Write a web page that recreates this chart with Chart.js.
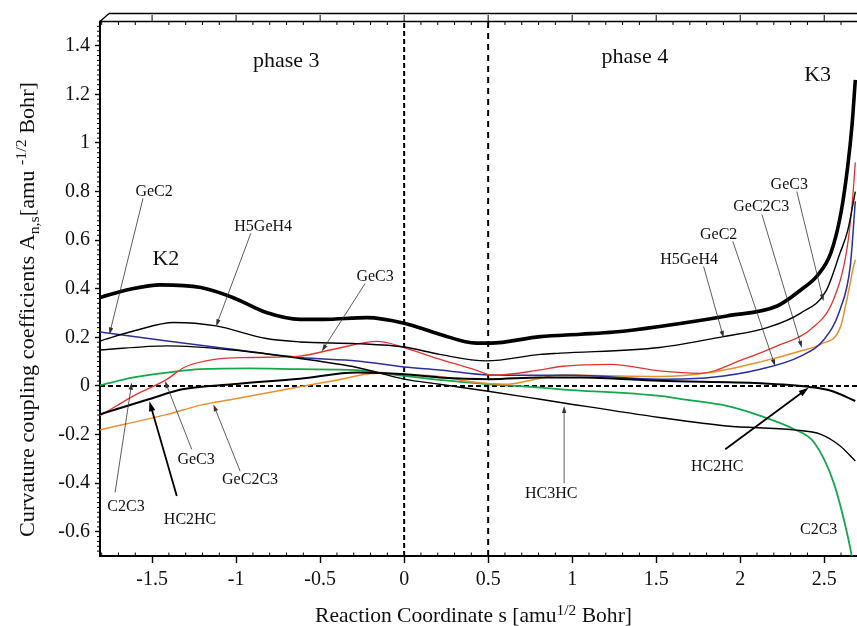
<!DOCTYPE html>
<html>
<head>
<meta charset="utf-8">
<script src="https://cdn.jsdelivr.net/npm/chart.js@4.4.1/dist/chart.umd.min.js"></script>
<style>
  html, body { margin: 0; padding: 0; background: #fff; }
  canvas { display: block; }
</style>
</head>
<body>
<canvas id="chart" width="857" height="626"></canvas>
<script>
const SERIF = "'Liberation Serif', 'Times New Roman', serif";

// Reaction coordinate s [amu^1/2 Bohr] and curvature coupling values per mode
const kS = [-1.81, -1.63, -1.45, -1.21, -1.02, -0.82, -0.62, -0.48, -0.22, 0.0, 0.21, 0.43, 0.51, 0.81, 1.05, 1.25, 1.52, 1.92, 2.22, 2.36, 2.46, 2.54, 2.60, 2.64, 2.665, 2.685];
const kV = [0.364, 0.398, 0.416, 0.405, 0.364, 0.302, 0.274, 0.274, 0.281, 0.258, 0.213, 0.176, 0.176, 0.203, 0.213, 0.222, 0.245, 0.288, 0.329, 0.395, 0.455, 0.549, 0.714, 0.905, 1.07, 1.26];

const h5gS = [-1.81, -1.6, -1.37, -1.12, -0.82, -0.62, -0.28, 0.0, 0.21, 0.49, 0.81, 0.93, 1.52, 1.90, 2.16, 2.36, 2.51, 2.595, 2.64, 2.685];
const h5gV = [0.185, 0.228, 0.261, 0.247, 0.195, 0.181, 0.174, 0.160, 0.130, 0.103, 0.130, 0.135, 0.158, 0.203, 0.240, 0.300, 0.390, 0.549, 0.640, 0.800];

const gec2S = [-1.81, -1.41, -1.02, -0.62, -0.28, 0.0, 0.21, 0.51, 0.81, 1.0, 1.52, 1.82, 2.12, 2.36, 2.50, 2.595, 2.655, 2.685];
const gec2V = [0.222, 0.185, 0.151, 0.117, 0.103, 0.078, 0.066, 0.045, 0.044, 0.044, 0.028, 0.035, 0.069, 0.123, 0.192, 0.316, 0.494, 0.760];

const gec3S = [-1.81, -1.61, -1.41, -1.31, -1.12, -0.92, -0.62, -0.42, -0.16, 0.0, 0.21, 0.41, 0.53, 0.81, 0.93, 1.23, 1.52, 1.76, 2.02, 2.22, 2.42, 2.556, 2.635, 2.665, 2.685];
const gec3V = [-0.123, -0.041, 0.028, 0.076, 0.110, 0.117, 0.123, 0.151, 0.183, 0.158, 0.110, 0.069, 0.044, 0.066, 0.080, 0.089, 0.062, 0.052, 0.110, 0.165, 0.233, 0.357, 0.563, 0.741, 0.920];

const gec2c3S = [-1.81, -1.41, -1.21, -1.02, -0.62, -0.42, -0.16, 0.0, 0.21, 0.41, 0.61, 0.81, 0.93, 1.52, 1.82, 2.12, 2.36, 2.48, 2.595, 2.635, 2.675, 2.685];
const gec2c3V = [-0.181, -0.117, -0.079, -0.055, -0.003, 0.021, 0.052, 0.048, 0.039, 0.016, 0.007, 0.032, 0.045, 0.039, 0.055, 0.099, 0.144, 0.172, 0.240, 0.357, 0.494, 0.520];

const c2c3S = [-1.81, -1.61, -1.41, -1.21, -0.92, -0.62, -0.28, 0.0, 0.21, 0.51, 0.81, 0.93, 1.52, 1.66, 1.92, 2.12, 2.32, 2.44, 2.556, 2.635, 2.67];
const c2c3V = [0.003, 0.035, 0.055, 0.069, 0.072, 0.069, 0.065, 0.041, 0.025, 0.007, -0.007, -0.014, -0.041, -0.055, -0.082, -0.123, -0.178, -0.233, -0.398, -0.603, -0.720];

const hc2hcS = [-1.81, -1.52, -1.32, -1.02, -0.62, -0.28, 0.0, 0.21, 0.51, 0.81, 1.05, 1.52, 2.12, 2.42, 2.54, 2.685];
const hc2hcV = [-0.117, -0.055, -0.014, 0.007, 0.030, 0.055, 0.048, 0.035, 0.028, 0.035, 0.035, 0.021, 0.011, -0.005, -0.020, -0.062];

const hc3hcS = [-1.81, -1.41, -1.02, -0.62, -0.28, 0.0, 0.21, 0.49, 0.81, 0.93, 1.52, 1.92, 2.32, 2.48, 2.595, 2.685];
const hc3hcV = [0.148, 0.165, 0.148, 0.113, 0.076, 0.028, 0.007, -0.021, -0.055, -0.068, -0.130, -0.165, -0.181, -0.199, -0.247, -0.309];

// Phase boundaries and the zero reference
const phaseBounds = [0, 0.5];
const xRange = [-1.81, 2.695];
const yRange = [-0.70, 1.50];

// Axis ticks
const xTickValues = [-1.5, -1, -0.5, 0, 0.5, 1, 1.5, 2, 2.5];
const xTickLabels = ['-1.5', '-1', '-0.5', '0', '0.5', '1', '1.5', '2', '2.5'];
const yTickValues = [-0.6, -0.4, -0.2, 0, 0.2, 0.4, 0.6, 0.8, 1, 1.2, 1.4];
const yTickLabels = ['-0.6', '-0.4', '-0.2', '0', '0.2', '0.4', '0.6', '0.8', '1', '1.2', '1.4'];

// Text placed in data coordinates (s, value)
const bigLabels = [
  { text: 'phase 3', s: -0.702, v: 1.311 },
  { text: 'phase 4', s: 1.373, v: 1.330 },
  { text: 'K3', s: 2.461, v: 1.255 },
  { text: 'K2', s: -1.418, v: 0.497 }
];
const modeLabels = [
  { text: 'GeC2', s: -1.488, v: 0.780, from: [-1.554, 0.772], to: [-1.754, 0.212] },
  { text: 'H5GeH4', s: -0.839, v: 0.637, from: [-0.9125, 0.628], to: [-1.119, 0.246] },
  { text: 'GeC3', s: -0.173, v: 0.432, from: [-0.232, 0.422], to: [-0.49, 0.143] },
  { text: 'C2C3', s: -1.655, v: -0.514, from: [-1.720, -0.438], to: [-1.621, 0.013] },
  { text: 'HC2HC', s: -1.274, v: -0.569, from: [-1.353, -0.453], to: [-1.516, -0.063], bold: true },
  { text: 'GeC3', s: -1.238, v: -0.322, from: [-1.264, -0.261], to: [-1.423, 0.020] },
  { text: 'GeC2C3', s: -0.917, v: -0.405, from: [-0.976, -0.351], to: [-1.135, -0.076] },
  { text: 'HC3HC', s: 0.875, v: -0.463, from: [0.952, -0.401], to: [0.952, -0.083] },
  { text: 'HC2HC', s: 1.863, v: -0.350, from: [1.911, -0.261], to: [2.407, -0.007], bold: true },
  { text: 'C2C3', s: 2.467, v: -0.610 },
  { text: 'H5GeH4', s: 1.696, v: 0.501, from: [1.782, 0.492], to: [1.901, 0.198] },
  { text: 'GeC2', s: 1.872, v: 0.604, from: [1.956, 0.595], to: [2.208, 0.081] },
  { text: 'GeC2C3', s: 2.125, v: 0.720, from: [2.129, 0.706], to: [2.367, 0.157] },
  { text: 'GeC3', s: 2.292, v: 0.809, from: [2.337, 0.800], to: [2.496, 0.349] }
];

const pts = (xs, ys) => xs.map((x, i) => ({ x, y: ys[i] }));

function curve(xs, ys, color, width, order) {
  return {
    data: pts(xs, ys), borderColor: color, borderWidth: width, showLine: true,
    pointRadius: 0, fill: false, cubicInterpolationMode: 'monotone', order
  };
}
function dashed(data, dash) {
  return {
    data, borderColor: '#000', borderWidth: 2, borderDash: dash, showLine: true,
    pointRadius: 0, fill: false, tension: 0, order: 20
  };
}

const datasets = [
  curve(kS, kV, '#000000', 3.6, 1),
  curve(h5gS, h5gV, '#000000', 1.4, 2),
  curve(hc2hcS, hc2hcV, '#000000', 2.0, 3),
  curve(hc3hcS, hc3hcV, '#000000', 1.4, 4),
  curve(gec3S, gec3V, '#e0352f', 1.3, 5),
  curve(gec2S, gec2V, '#2a2f9c', 1.5, 6),
  curve(gec2c3S, gec2c3V, '#e8902e', 1.5, 7),
  curve(c2c3S, c2c3V, '#14a64a', 1.8, 8),
  dashed([{ x: phaseBounds[0], y: yRange[0] }, { x: phaseBounds[0], y: yRange[1] }], [5, 3]),
  dashed([{ x: phaseBounds[1], y: yRange[0] }, { x: phaseBounds[1], y: yRange[1] }], [6, 5]),
  dashed([{ x: xRange[0], y: 0 }, { x: xRange[1], y: 0 }], [5, 3])
];

function line(ctx, x1, y1, x2, y2) {
  ctx.beginPath(); ctx.moveTo(x1, y1); ctx.lineTo(x2, y2); ctx.stroke();
}

function arrow(ctx, x1, y1, x2, y2, bold) {
  const ang = Math.atan2(y2 - y1, x2 - x1);
  const len = bold ? 10 : 7;
  const half = bold ? 3.2 : 2.2;
  ctx.save();
  ctx.strokeStyle = bold ? '#000' : '#333';
  ctx.fillStyle = ctx.strokeStyle;
  ctx.lineWidth = bold ? 1.8 : 0.8;
  line(ctx, x1, y1, x2 - Math.cos(ang) * len * 0.6, y2 - Math.sin(ang) * len * 0.6);
  ctx.beginPath();
  ctx.moveTo(x2, y2);
  ctx.lineTo(x2 - Math.cos(ang) * len - Math.sin(ang) * half, y2 - Math.sin(ang) * len + Math.cos(ang) * half);
  ctx.lineTo(x2 - Math.cos(ang) * len + Math.sin(ang) * half, y2 - Math.sin(ang) * len - Math.cos(ang) * half);
  ctx.closePath();
  ctx.fill();
  ctx.restore();
}

// Draws a run of text pieces (with sub/superscripts) along a baseline,
// optionally stretched to a given length.
function drawRuns(ctx, runs, length) {
  let total = 0;
  runs.forEach(r => { ctx.font = r.size + 'px ' + SERIF; r.w = ctx.measureText(r.text).width; total += r.w; });
  const k = length ? length / total : 1;
  ctx.save();
  ctx.scale(k, 1);
  let cx = 0;
  runs.forEach(r => { ctx.font = r.size + 'px ' + SERIF; ctx.fillText(r.text, cx, r.dy || 0); cx += r.w; });
  ctx.restore();
}

const decor = {
  id: 'decor',
  afterDraw(chart) {
    const { ctx, chartArea: a, scales: { x, y } } = chart;
    ctx.save();
    ctx.strokeStyle = '#000';
    ctx.lineWidth = 1;

    // minor ticks: bottom/top every 0.1, left every 0.02
    for (let i = -18; i <= 26; i++) {
      const px = x.getPixelForValue(i / 10);
      if (i % 5 === 0) {
        line(ctx, px, a.top, px, a.top - 6.5);
      } else {
        line(ctx, px, a.bottom, px, a.bottom - 3.5);
        line(ctx, px, a.top, px, a.top + 3.5);
      }
    }
    for (let i = -34; i <= 74; i++) {
      if (i % 10 === 0) continue;
      const py = y.getPixelForValue(i / 50);
      line(ctx, a.left - 3, py, a.left, py);
    }

    // top frame with its offset back edge
    ctx.lineWidth = 1.6;
    line(ctx, a.left - 1, a.top, a.right, a.top);
    ctx.lineWidth = 1.3;
    line(ctx, a.left + 9, a.top - 8, a.right, a.top - 8);
    line(ctx, a.left, a.top, a.left + 9, a.top - 8);

    // axis titles
    ctx.fillStyle = '#111';
    ctx.textBaseline = 'alphabetic';
    ctx.textAlign = 'left';
    ctx.save();
    ctx.translate(315, 622);
    drawRuns(ctx, [
      { text: 'Reaction Coordinate s [amu', size: 21 },
      { text: '1/2', size: 15, dy: -7 },
      { text: ' Bohr]', size: 21 }
    ], 317);
    ctx.restore();

    ctx.save();
    ctx.translate(33.5, 537);
    ctx.rotate(-Math.PI / 2);
    drawRuns(ctx, [
      { text: 'Curvature coupling coefficients A', size: 21 },
      { text: 'n,s', size: 15, dy: 5 },
      { text: '[amu ', size: 21 },
      { text: '-1/2', size: 15, dy: -8 },
      { text: ' Bohr]', size: 21 }
    ], 455);
    ctx.restore();

    // phase / K labels
    ctx.textAlign = 'center';
    ctx.font = '22px ' + SERIF;
    bigLabels.forEach(l => ctx.fillText(l.text, x.getPixelForValue(l.s), y.getPixelForValue(l.v)));

    // mode labels with pointer arrows
    ctx.font = '16px ' + SERIF;
    modeLabels.forEach(l => {
      ctx.fillStyle = '#111';
      ctx.fillText(l.text, x.getPixelForValue(l.s), y.getPixelForValue(l.v));
      if (l.from) {
        arrow(ctx, x.getPixelForValue(l.from[0]), y.getPixelForValue(l.from[1]),
          x.getPixelForValue(l.to[0]), y.getPixelForValue(l.to[1]), l.bold);
      }
    });
    ctx.restore();
  }
};

new Chart(document.getElementById('chart'), {
  type: 'scatter',
  data: { datasets },
  options: {
    responsive: false,
    devicePixelRatio: 1,
    animation: false,
    layout: { padding: { top: 21.5, left: 0, right: 0, bottom: 0 } },
    plugins: { legend: { display: false }, tooltip: { enabled: false } },
    scales: {
      x: {
        type: 'linear', position: 'bottom', min: xRange[0], max: xRange[1],
        afterBuildTicks: s => { s.ticks = xTickValues.map(v => ({ value: v })); },
        afterFit: s => { s.height = 70; s.paddingLeft = 0; s.paddingRight = 0; },
        ticks: {
          callback: (v, i) => xTickLabels[i], autoSkip: false, maxRotation: 0,
          font: { family: SERIF, size: 20 }, color: '#111', padding: 5
        },
        grid: { display: true, drawOnChartArea: false, drawTicks: true, tickLength: 7, tickWidth: 1.4, tickColor: '#000' },
        border: { display: true, color: '#000', width: 2 }
      },
      y: {
        type: 'linear', position: 'left', min: yRange[0], max: yRange[1],
        afterBuildTicks: s => { s.ticks = yTickValues.map(v => ({ value: v })); },
        afterFit: s => { s.width = 100; s.paddingTop = 0; s.paddingBottom = 0; },
        ticks: {
          callback: (v, i) => yTickLabels[i], autoSkip: false,
          font: { family: SERIF, size: 20 }, color: '#111', padding: 5
        },
        grid: { display: true, drawOnChartArea: false, drawTicks: true, tickLength: 5, tickWidth: 1.4, tickColor: '#000' },
        border: { display: true, color: '#000', width: 2 }
      }
    }
  },
  plugins: [decor]
});
</script>
</body>
</html>
